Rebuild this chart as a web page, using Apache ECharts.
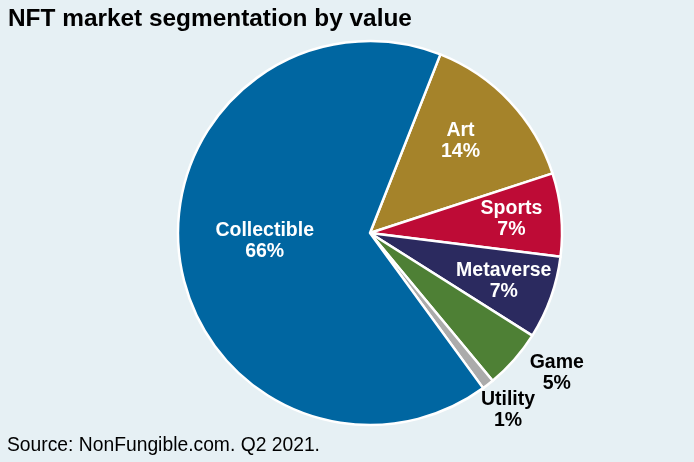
<!DOCTYPE html>
<html>
<head>
<meta charset="utf-8">
<script src="https://cdn.jsdelivr.net/npm/echarts@6/dist/echarts.min.js"></script>
<style>html,body{margin:0;padding:0;background:#E6F0F4;}#c{width:694px;height:462px;}</style>
</head>
<body>
<div id="c"></div>
<script>
var categories = ['Art', 'Sports', 'Metaverse', 'Game', 'Utility', 'Collectible'];
var values = [14, 7, 7, 5, 1, 66];
var colors = ['#A5832A', '#BE0B36', '#2B2A5F', '#4E8035', '#ABABAB', '#0066A1'];
var labelColors = ['#fff', '#fff', '#fff', '#000', '#000', '#fff'];
var labelFactor = [0.67, 0.74, 0.74, 1.215, 1.17, 0.55];
var labelShiftDeg = [-2, 0, 0, -4.5, 0, 3];

var CX = 370, CY = 233, R = 192;
var chart = echarts.init(document.getElementById('c'));
chart.setOption({
  backgroundColor: '#E6F0F4',
  animation: false,
  title: [{
    text: 'NFT market segmentation by value',
    left: 8, top: 7, padding: 0,
    textStyle: {fontFamily: 'Liberation Sans', fontWeight: 'bold', fontSize: 24.4, color: '#000'}
  }, {
    text: 'Source: NonFungible.com. Q2 2021.',
    left: 7, top: 436, padding: 0,
    textStyle: {fontFamily: 'Liberation Sans', fontWeight: 'normal', fontSize: 19.3, color: '#000'}
  }],
  series: [{
    type: 'pie',
    center: [CX, CY],
    radius: [0, R],
    startAngle: 68.5,
    clockwise: true,
    avoidLabelOverlap: false,
    itemStyle: {borderColor: '#fff', borderWidth: 2.5},
    label: {
      show: true,
      position: 'inside',
      formatter: '{b}\n{c}%',
      fontFamily: 'Liberation Sans',
      fontWeight: 'bold',
      fontSize: 19.5,
      lineHeight: 21
    },
    labelLine: {show: false},
    labelLayout: function (p) {
      var r = p.labelRect;
      var mx = r.x + r.width / 2, my = r.y + r.height / 2;
      var vx = mx - CX, vy = my - CY;
      var a = Math.atan2(vy, vx) + labelShiftDeg[p.dataIndex] * Math.PI / 180;
      var d = labelFactor[p.dataIndex] * R;
      return {dx: CX + d * Math.cos(a) - mx, dy: CY + d * Math.sin(a) - my};
    },
    data: categories.map(function (c, i) {
      return {name: c, value: values[i], itemStyle: {color: colors[i]}, label: {color: labelColors[i]}};
    })
  }]
});
</script>
</body>
</html>
